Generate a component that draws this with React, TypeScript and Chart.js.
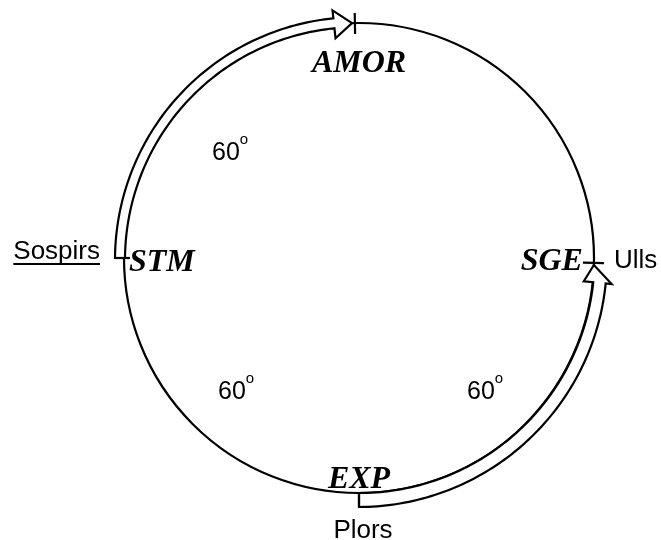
import React, { useEffect, useRef } from 'react';
import { Chart, registerables } from 'chart.js';

Chart.register(...registerables);

// ---- data ----
const nodeNames = ['AMOR', 'SGE', 'EXP', 'STM'];
const nodeAngles = [91, -1.2, 270, 180]; // degrees on the circle
const senseNames = ['', 'Ulls', 'Plors', 'Sospirs'];
const sectorAngles = [60, 60, 60];
const arrowFrom = ['STM', 'EXP'];
const arrowTo = ['AMOR', 'SGE'];

// ---- layout (pixels) ----
const W = 661;
const H = 540;
const CX = 359;
const CY = 258;
const RPX = 235;

const rad = (d: number) => (d * Math.PI) / 180;

const arrowStyle: Record<string, any> = {
  STM: { startIn: -1, startOut: 9, endIn: -4, endOut: 6, headIn: -14, headOut: 14, tipOff: 0.7, headLen: 4.4, startTick: [-6, 9] },
  EXP: { startIn: 0, startOut: 14, endIn: 0.5, endOut: 13, headIn: -9, headOut: 19, tipOff: 0.5, headLen: 4.2, startTick: [0, 14] },
};

const diagramPlugin = {
  id: 'diagram',
  afterDraw(chart: any) {
    const ctx = chart.ctx as CanvasRenderingContext2D;
    const xs = chart.scales.x;
    const ys = chart.scales.y;
    const cx = xs.getPixelForValue(0);
    const cy = ys.getPixelForValue(0);
    const R = xs.getPixelForValue(1) - cx;
    const pt = (a: number, r: number): [number, number] => [cx + r * Math.cos(rad(a)), cy - r * Math.sin(rad(a))];
    const angOf = (name: string) => nodeAngles[nodeNames.indexOf(name)];

    ctx.save();
    ctx.strokeStyle = '#000';
    ctx.lineWidth = 2.2;
    ctx.lineJoin = 'miter';

    // circle
    ctx.beginPath();
    ctx.arc(cx, cy, R, 0, Math.PI * 2);
    ctx.stroke();

    // arrows
    arrowFrom.forEach((from, i) => {
      const to = arrowTo[i];
      const st = arrowStyle[from];
      const a0 = angOf(from);
      let a1 = angOf(to);
      if (from === 'EXP' && a1 < a0) a1 += 360;
      const sgn = Math.sign(a1 - a0);
      const tip = a1 - sgn * st.tipOff;
      const base = tip - sgn * st.headLen;
      const n = 80;
      const outer: [number, number][] = [];
      const inner: [number, number][] = [];
      for (let k = 0; k <= n; k++) {
        const t = k / n;
        const a = a0 + (base - a0) * t;
        outer.push(pt(a, R + st.startOut + (st.endOut - st.startOut) * t));
        inner.push(pt(a, R + st.startIn + (st.endIn - st.startIn) * t));
      }
      ctx.beginPath();
      outer.forEach((p, k) => (k === 0 ? ctx.moveTo(p[0], p[1]) : ctx.lineTo(p[0], p[1])));
      const oc = pt(base, R + st.headOut);
      const tp = pt(tip, R);
      const ic = pt(base, R + st.headIn);
      ctx.lineTo(oc[0], oc[1]);
      ctx.lineTo(tp[0], tp[1]);
      ctx.lineTo(ic[0], ic[1]);
      for (let k = n; k >= 0; k--) ctx.lineTo(inner[k][0], inner[k][1]);
      ctx.closePath();
      ctx.fillStyle = '#fff';
      ctx.fill();
      ctx.stroke();

      // start tick
      const s1 = pt(a0, R + st.startTick[0]);
      const s2 = pt(a0, R + st.startTick[1]);
      ctx.beginPath();
      ctx.moveTo(s1[0], s1[1]);
      ctx.lineTo(s2[0], s2[1]);
      ctx.stroke();

      // end tick
      const ae = a1 - (from === 'EXP' ? 360 : 0);
      const e1 = pt(ae, R - 11);
      const e2 = pt(ae, R + 10);
      ctx.beginPath();
      ctx.moveTo(e1[0], e1[1]);
      ctx.lineTo(e2[0], e2[1]);
      ctx.stroke();
    });

    // node labels
    ctx.fillStyle = '#000';
    ctx.font = 'italic bold 32px "Liberation Serif", "Times New Roman", serif';
    ctx.textBaseline = 'alphabetic';
    nodeNames.forEach((name, i) => {
      const [px, py] = pt(nodeAngles[i], R);
      if (name === 'AMOR') {
        ctx.textAlign = 'center';
        ctx.fillText(name, cx, py + 49);
      } else if (name === 'SGE') {
        ctx.textAlign = 'right';
        ctx.fillText(name, px - 11, py + 7);
      } else if (name === 'EXP') {
        ctx.textAlign = 'center';
        ctx.fillText(name, px, py - 5);
      } else {
        ctx.textAlign = 'left';
        ctx.fillText(name, px + 5, py + 13);
      }
    });

    // sense labels
    ctx.font = '26px "Liberation Sans", Arial, sans-serif';
    senseNames.forEach((name, i) => {
      if (!name) return;
      const [px, py] = pt(nodeAngles[i], R);
      if (nodeNames[i] === 'SGE') {
        ctx.textAlign = 'left';
        ctx.fillText(name, px + 20, py + 5);
      } else if (nodeNames[i] === 'EXP') {
        ctx.textAlign = 'center';
        ctx.fillText(name, px + 4, py + 45);
      } else if (nodeNames[i] === 'STM') {
        ctx.textAlign = 'right';
        const rx = px - 24;
        const by = py + 1;
        ctx.fillText(name, rx, by);
        const w = ctx.measureText(name).width;
        ctx.lineWidth = 1.8;
        ctx.beginPath();
        ctx.moveTo(rx - w, by + 5);
        ctx.lineTo(rx, by + 5);
        ctx.stroke();
      }
    });

    // sector angle labels
    const sectorPos: [number, number][] = [
      [-147, -98],
      [-141, 141],
      [108, 141],
    ];
    sectorAngles.forEach((v, i) => {
      const x0 = cx + sectorPos[i][0];
      const y0 = cy + sectorPos[i][1];
      ctx.textAlign = 'left';
      ctx.font = '25px "Liberation Sans", Arial, sans-serif';
      const s = String(v);
      ctx.fillText(s, x0, y0);
      const w = ctx.measureText(s).width;
      ctx.font = '15px "Liberation Sans", Arial, sans-serif';
      ctx.fillText('o', x0 + w, y0 - 16);
    });

    ctx.restore();
  },
};

export default function App() {
  const ref = useRef<HTMLCanvasElement | null>(null);
  useEffect(() => {
    if (!ref.current) return;
    const chart = new Chart(ref.current, {
      type: 'scatter',
      data: {
        datasets: [
          {
            label: 'nodes',
            data: nodeAngles.map((a) => ({ x: Math.cos(rad(a)), y: Math.sin(rad(a)) })),
            pointRadius: 0,
            showLine: false,
          },
        ],
      },
      options: {
        responsive: false,
        animation: false,
        events: [],
        layout: { padding: 0 },
        plugins: { legend: { display: false }, tooltip: { enabled: false } },
        scales: {
          x: { type: 'linear', display: false, min: -CX / RPX, max: (W - CX) / RPX },
          y: { type: 'linear', display: false, min: -(H - CY) / RPX, max: CY / RPX },
        },
      },
      plugins: [diagramPlugin],
    });
    return () => chart.destroy();
  }, []);
  return (
    <div style={{ position: 'fixed', left: 0, top: 0, width: W, height: H, background: '#fff' }}>
      <canvas ref={ref} width={W} height={H} />
    </div>
  );
}
